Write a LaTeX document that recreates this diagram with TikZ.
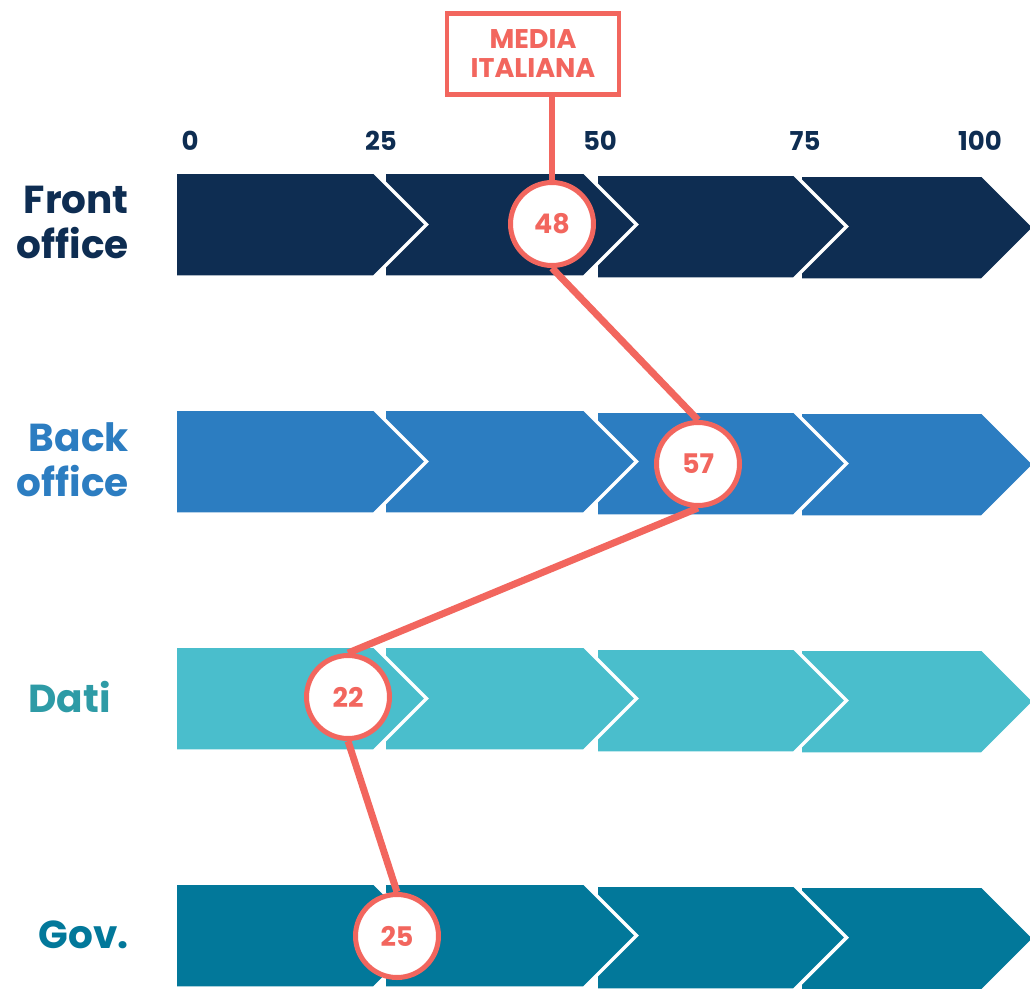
\documentclass[tikz,border=0pt]{standalone}
\usepackage{fontspec}
\setmainfont{Poppins}
\definecolor{navy}{HTML}{0E2D52}
\definecolor{blueA}{HTML}{2C7DC1}
\definecolor{tealA}{HTML}{4ABECC}
\definecolor{tealT}{HTML}{2E9BA6}
\definecolor{govA}{HTML}{02789A}
\definecolor{redA}{HTML}{F2665E}
\pgfdeclarelayer{back}
\pgfdeclarelayer{mid}
\pgfsetlayers{back,mid,main}
\tikzset{
  chev/.style={fill=#1, draw=white, line width=3.5pt, line join=miter},
  rowlab/.style={font=\bfseries\fontsize{39}{45}\selectfont, align=right, inner sep=0pt, anchor=east},
  axislab/.style={font=\bfseries\fontsize{26}{28}\selectfont, text=navy, inner sep=0pt},
  circ/.style={circle, draw=redA, line width=5pt, fill=white, minimum size=83pt, inner sep=0pt,
    font=\bfseries\fontsize{27}{28}\selectfont, text=redA},
  conn/.style={draw=redA, line width=7pt},
}
\begin{document}
\begin{tikzpicture}[x=1pt,y=-1pt]
\useasboundingbox (0,0) rectangle (1030,988);
\clip (0,0) rectangle (1030,988);
\begin{pgfonlayer}{back}
\foreach \T/\col in {172/navy,409/blueA,646/tealA,883/govA} {
  \path[chev=\col] (800,\T+3) -- (982,\T+3) -- (1034.5,\T+55.5) -- (982,\T+108) -- (800,\T+108) -- cycle;
  \path[chev=\col] (596,\T+2) -- (794,\T+2) -- (846.5,\T+54.5) -- (794,\T+107) -- (596,\T+107) -- cycle;
  \path[chev=\col] (384,\T) -- (584,\T) -- (636.5,\T+52.5) -- (584,\T+105) -- (384,\T+105) -- cycle;
  \path[chev=\col] (175,\T) -- (374,\T) -- (426.5,\T+52.5) -- (374,\T+105) -- (175,\T+105) -- cycle;
}
\end{pgfonlayer}
% axis
\node[axislab] (a0) at (190,141) {0};
\node[axislab] (a25) at (381,141) {25};
\node[axislab] (a50) at (600,141) {50};
\node[axislab] (a75) at (805,141) {75};
\node[axislab] (a100) at (980,141) {100};
% row labels
\node[rowlab, text=navy] (lfront) at (129,222) {Front\\office};
\node[rowlab, text=blueA] (lback) at (129,460) {Back\\office};
\node[rowlab, text=tealT] (ldati) at (111,697) {Dati};
\node[rowlab, text=govA] (lgov) at (129,935) {Gov.};
% box
\node[draw=redA, line width=4.5pt, minimum width=172pt, minimum height=81pt, align=center, text=redA, inner sep=0pt,
  font=\bfseries\fontsize{27}{29}\selectfont, fill=white] (media) at (533,54) {MEDIA\\ITALIANA};
% circles
\node[circ] (c48) at (552,224) {48};
\node[circ] (c57) at (698,464) {57};
\node[circ] (c22) at (348,697) {22};
\node[circ] (c25) at (397,936) {25};
\begin{pgfonlayer}{mid}
\draw[conn, line width=6pt] (c48.north |- media.south) -- (c48.north);
\draw[conn] (c48.south) -- (c57.north);
\draw[conn] (c57.south) -- (c22.north);
\draw[conn] (c22.south) -- (c25.north);
\end{pgfonlayer}
\end{tikzpicture}
\end{document}
